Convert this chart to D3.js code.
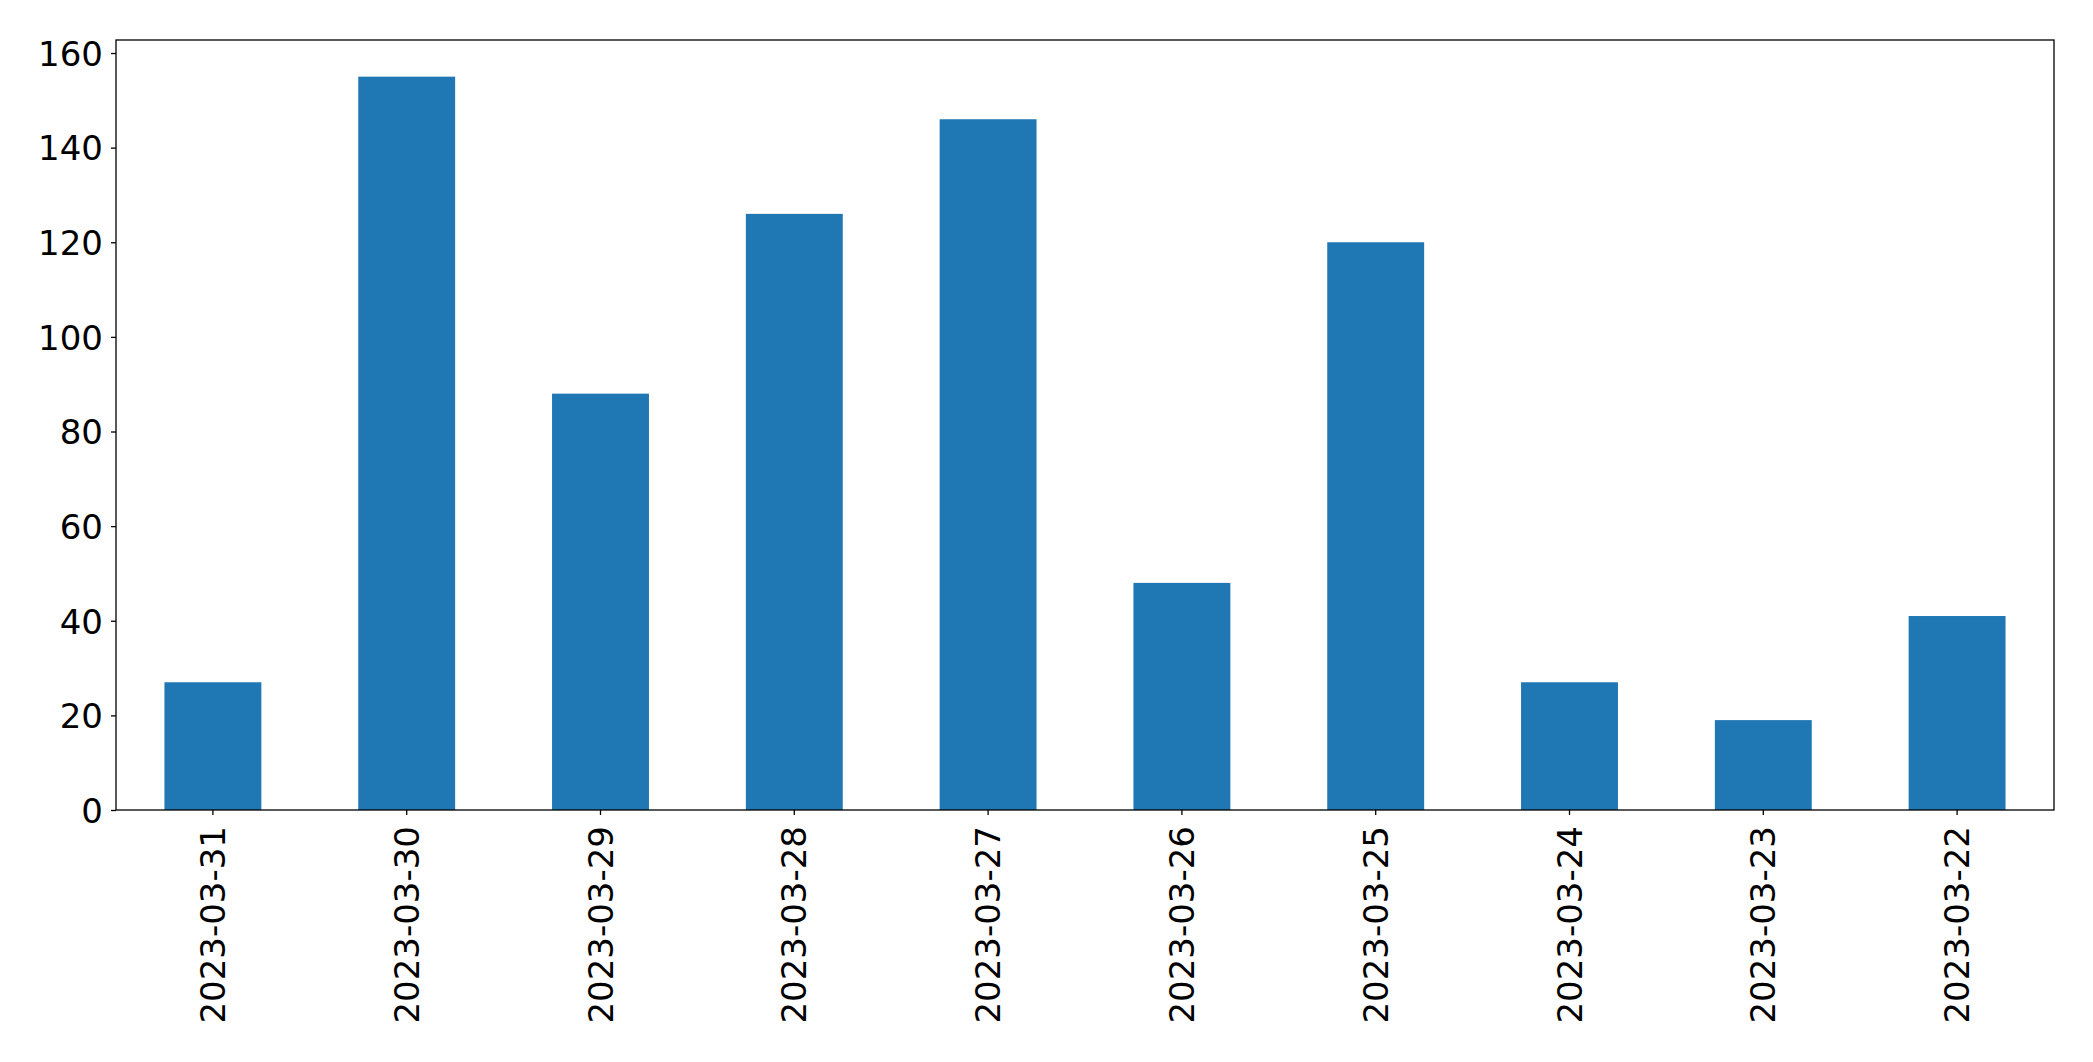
<!DOCTYPE html>
<html>
<head>
<meta charset="utf-8">
<script src="https://cdn.jsdelivr.net/npm/d3@7"></script>
<style>
  html, body { margin: 0; padding: 0; background: #fff; }
  svg { display: block; }
  text { font-family: "DejaVu Sans", sans-serif; fill: #000; }
</style>
</head>
<body>
<svg id="chart" width="2093" height="1062"></svg>
<script>
const categories = ["2023-03-31","2023-03-30","2023-03-29","2023-03-28","2023-03-27","2023-03-26","2023-03-25","2023-03-24","2023-03-23","2023-03-22"];
const values = [27, 155, 88, 126, 146, 48, 120, 27, 19, 41];
const yTicks = [0, 20, 40, 60, 80, 100, 120, 140, 160];

const margin = {left: 116, right: 2093 - 2054, top: 40, bottom: 1062 - 810};
const W = 2093, H = 1062;
const iw = W - margin.left - margin.right;
const ih = H - margin.top - margin.bottom;

const svg = d3.select("#chart");
const g = svg.append("g").attr("transform", `translate(${margin.left},${margin.top})`);

const x = d3.scaleBand().domain(categories).range([0, iw]).paddingInner(0.5).paddingOuter(0.25);
const y = d3.scaleLinear().domain([0, d3.max(values) * 1.05]).range([ih, 0]);

g.selectAll("rect.bar").data(values).enter().append("rect")
  .attr("class", "bar")
  .attr("x", (d, i) => x(categories[i]))
  .attr("width", x.bandwidth())
  .attr("y", d => y(d))
  .attr("height", d => ih - y(d))
  .attr("fill", "#1f77b4");

// Y axis
const yAxis = g.append("g").call(d3.axisLeft(y).tickValues(yTicks).tickSize(5).tickPadding(8));
yAxis.select(".domain").remove();
yAxis.selectAll("line").attr("stroke", "#000").attr("stroke-width", 1.3);
yAxis.selectAll("text").style("font-size", "34px").attr("dy", "0.36em");

// X axis
const xAxis = g.append("g").attr("transform", `translate(0,${ih})`)
  .call(d3.axisBottom(x).tickSize(5).tickPadding(0));
xAxis.select(".domain").remove();
xAxis.selectAll("line").attr("stroke", "#000").attr("stroke-width", 1.3);
xAxis.selectAll("text")
  .style("font-size", "34px")
  .attr("text-anchor", "end")
  .attr("dy", null)
  .attr("y", 0)
  .attr("transform", "translate(0,16) rotate(-90)")
  .attr("dominant-baseline", "central");

// Frame
g.append("rect").attr("x", 0).attr("y", 0).attr("width", iw).attr("height", ih)
  .attr("fill", "none").attr("stroke", "#000").attr("stroke-width", 1.3);
</script>
</body>
</html>
